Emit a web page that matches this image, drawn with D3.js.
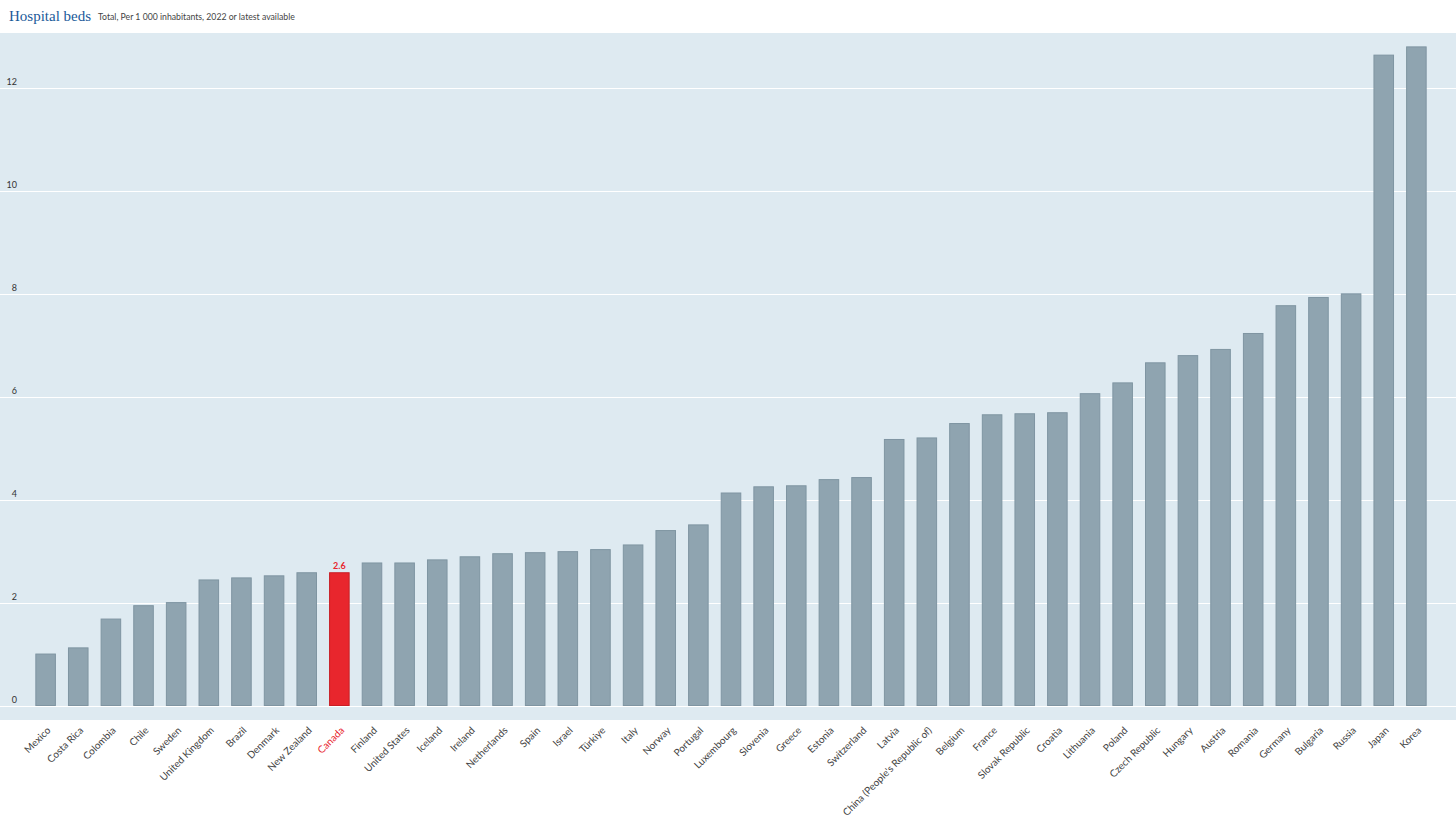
<!DOCTYPE html>
<html>
<head>
<meta charset="utf-8">
<script src="https://cdn.jsdelivr.net/npm/d3@7"></script>
<style>
  html, body { margin: 0; padding: 0; background: #fff; }
  svg { display: block; }
</style>
</head>
<body>
<svg id="chart" width="1456" height="819"></svg>
<script>
const countries = ["Mexico","Costa Rica","Colombia","Chile","Sweden","United Kingdom","Brazil","Denmark","New Zealand","Canada","Finland","United States","Iceland","Ireland","Netherlands","Spain","Israel","Türkiye","Italy","Norway","Portugal","Luxembourg","Slovenia","Greece","Estonia","Switzerland","Latvia","China (People's Republic of)","Belgium","France","Slovak Republic","Croatia","Lithuania","Poland","Czech Republic","Hungary","Austria","Romania","Germany","Bulgaria","Russia","Japan","Korea"];
const values = [1.0,1.12,1.68,1.94,2.0,2.44,2.48,2.52,2.58,2.58,2.77,2.77,2.83,2.89,2.95,2.97,2.99,3.03,3.12,3.4,3.51,4.13,4.25,4.27,4.39,4.43,5.17,5.2,5.48,5.65,5.67,5.69,6.06,6.27,6.66,6.8,6.92,7.23,7.77,7.93,8.0,12.64,12.8];
const yTicks = [0,2,4,6,8,10,12];
const highlight = "Canada";
const highlightLabel = "2.6";
const titleText = "Hospital beds";
const subtitleText = "Total, Per 1 000 inhabitants, 2022 or latest available";

const svg = d3.select("#chart");
const W = 1456;
const plotTop = 33, plotBottom = 720;

const data = countries.map((c, i) => ({ country: c, value: values[i] }));

const x = d3.scaleBand()
  .domain(countries)
  .range([29.3, 1432.7])
  .paddingInner(0.37)
  .paddingOuter(0.185);

const y = d3.scaleLinear().domain([0, 13.07]).range([705.5, plotTop]);

// background
svg.append("rect").attr("x", 0).attr("y", plotTop).attr("width", W).attr("height", plotBottom - plotTop).attr("fill", "#deeaf1");

// title
svg.append("text").attr("x", 9).attr("y", 21)
  .attr("font-family", "'Liberation Serif', 'DejaVu Serif', serif")
  .attr("font-size", 15).attr("fill", "#1b5a9a").text(titleText);
svg.append("text").attr("x", 98).attr("y", 20)
  .attr("font-family", "Lato, 'Noto Sans', sans-serif")
  .attr("font-size", 8.7).attr("fill", "#444").text(subtitleText);

// gridlines
const grid = svg.append("g");
grid.selectAll("line").data(yTicks).join("line")
  .attr("x1", 0).attr("x2", W)
  .attr("y1", d => Math.round(y(d)) + 0.5).attr("y2", d => Math.round(y(d)) + 0.5)
  .attr("stroke", "#ffffff").attr("stroke-width", 1);

// y axis labels
const yAxis = d3.axisLeft(y).tickValues(yTicks).tickSize(0).tickFormat(d3.format("d"));
const yg = svg.append("g").attr("transform", "translate(17,-6)").call(yAxis);
yg.select(".domain").remove();
yg.selectAll("text").attr("font-family", "Lato, 'Noto Sans', sans-serif")
  .attr("font-size", 9).attr("fill", "#333").attr("text-anchor", "end").attr("dx", 0).attr("x", 0);

// bars
svg.append("g").selectAll("rect").data(data).join("rect")
  .attr("x", d => x(d.country) + 0.5)
  .attr("y", d => y(d.value))
  .attr("width", x.bandwidth() - 1)
  .attr("height", d => y(0) - y(d.value))
  .attr("fill", d => d.country === highlight ? "#e8262d" : "#8fa4b0")
  .attr("stroke", d => d.country === highlight ? "#c81e25" : "#7f95a2")
  .attr("stroke-width", 1);

// value label
const hd = data.find(d => d.country === highlight);
svg.append("text")
  .attr("x", x(hd.country) + x.bandwidth() / 2)
  .attr("y", y(hd.value) - 4)
  .attr("text-anchor", "middle")
  .attr("font-family", "Lato, 'Noto Sans', sans-serif")
  .attr("font-weight", "bold").attr("font-size", 9)
  .attr("fill", "#e8262d").text(highlightLabel);

// x axis labels
const xAxis = d3.axisBottom(x).tickSize(0);
const xg = svg.append("g").attr("transform", "translate(0,731)").call(xAxis);
xg.select(".domain").remove();
xg.selectAll("text")
  .attr("font-family", "Lato, 'Noto Sans', sans-serif")
  .attr("font-size", 10)
  .attr("fill", d => d === highlight ? "#e8262d" : "#444")
  .attr("text-anchor", "end")
  .attr("dx", 0).attr("dy", 0)
  .attr("x", 4).attr("y", 4)
  .attr("transform", "rotate(-45)");
</script>
</body>
</html>
